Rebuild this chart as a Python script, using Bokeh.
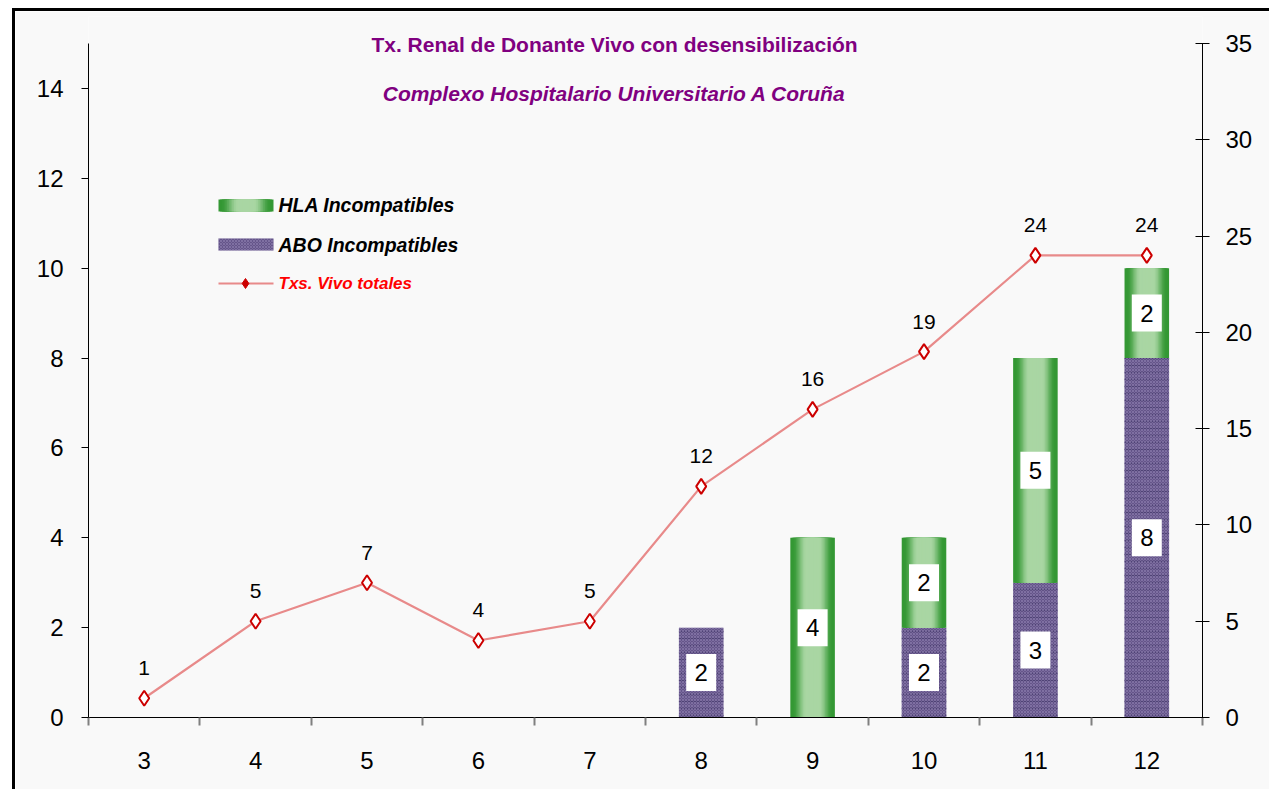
from bokeh.plotting import figure
from bokeh.models import Range1d, LinearAxis, FixedTicker, ColumnDataSource, Label
from bokeh.core.properties import value
from bokeh.embed import file_html
from bokeh.resources import INLINE

# ---------------- data ----------------
years = [3, 4, 5, 6, 7, 8, 9, 10, 11, 12]
abo_incompatibles = [0, 0, 0, 0, 0, 2, 0, 2, 3, 8]
hla_incompatibles = [0, 0, 0, 0, 0, 0, 4, 2, 5, 2]
txs_vivo_totales = [1, 5, 7, 4, 5, 12, 16, 19, 24, 24]
left_ticks = [0, 2, 4, 6, 8, 10, 12, 14]
right_ticks = [0, 5, 10, 15, 20, 25, 30, 35]
LEFT_MAX, RIGHT_MAX = 15, 35

title_text = "Tx. Renal de Donante Vivo con desensibilización"
subtitle_text = "Complexo Hospitalario Universitario A Coruña"
legend_labels = ["HLA Incompatibles", "ABO Incompatibles", "Txs. Vivo totales"]

FONT = "Liberation Sans"
BG = "#f9f9f9"
PURPLE_TITLE = "#800080"

OX, OY = 15, 11        # page origin of the canvas (after margin + border)
W, H = 1272 - OX, 792 - OY
FRAME_L, FRAME_R, AXIS_T, FRAME_B = 88, 1202, 43, 717  # page px
FRAME_T = 16  # frame extends above the axes so titles are not clipped

ext = (FRAME_B - FRAME_T) / (FRAME_B - AXIS_T)
p = figure(width=W, height=H, output_backend="svg", toolbar_location=None,
           x_range=Range1d(years[0] - 0.5, years[-1] + 0.5),
           y_range=Range1d(0, LEFT_MAX * ext),
           min_border_left=FRAME_L - OX, min_border_right=W - (FRAME_R - OX),
           min_border_top=FRAME_T - OY, min_border_bottom=H - (FRAME_B - OY),
           background_fill_color=BG, border_fill_color=BG)
p.styles = {"margin-top": "8px", "margin-left": "12px",
            "border-top": "3px solid black", "border-left": "3px solid black"}
p.outline_line_color = None
p.xgrid.grid_line_color = None
p.ygrid.grid_line_color = None
p.extra_y_ranges = {"right": Range1d(0, RIGHT_MAX * ext)}

# axes
xa = p.xaxis[0]
xa.ticker = FixedTicker(ticks=years, minor_ticks=[y - 0.5 for y in years] + [years[-1] + 0.5])
xa.major_tick_out = 0
xa.major_tick_in = 0
xa.minor_tick_out = 8
xa.minor_tick_in = 0
xa.minor_tick_line_color = "#808080"
xa.minor_tick_line_width = 2
xa.axis_line_color = "black"
xa.major_label_standoff = 26
xa.major_label_text_font = FONT
xa.major_label_text_font_size = "24px"
xa.major_label_text_color = "black"

ya = p.yaxis[0]
ya.ticker = FixedTicker(ticks=left_ticks)
ya.bounds = (0, LEFT_MAX)
ya.major_tick_out = 7
ya.major_tick_in = 0
ya.minor_tick_out = 0
ya.minor_tick_in = 0
ya.major_label_standoff = 18
ya.major_label_text_font = FONT
ya.major_label_text_font_size = "24px"
ya.major_label_text_color = "black"
ya.axis_line_color = "black"

ra = LinearAxis(y_range_name="right", ticker=FixedTicker(ticks=right_ticks),
                bounds=(0, RIGHT_MAX))
ra.major_tick_out = 7
ra.major_tick_in = 7
ra.minor_tick_out = 0
ra.minor_tick_in = 0
ra.major_label_standoff = 16
ra.major_label_text_font = FONT
ra.major_label_text_font_size = "24px"
ra.major_label_text_color = "black"
ra.axis_line_color = "black"
p.add_layout(ra, "right")

# helpers (layout positions only)
def px_x(px):
    return (years[0] - 0.5) + (px - FRAME_L) * len(years) / (FRAME_R - FRAME_L)

def px_y(py):
    return LEFT_MAX * (FRAME_B - py) / (FRAME_B - AXIS_T)

def mix(c1, c2, f):
    a = [int(c1[i:i + 2], 16) for i in (1, 3, 5)]
    b = [int(c2[i:i + 2], 16) for i in (1, 3, 5)]
    return "#%02x%02x%02x" % tuple(round(a[i] + (b[i] - a[i]) * f) for i in range(3))

GREEN_EDGE = "#349834"
GREEN_MID = "#a9d6a3"
N_LAYERS = 16

def grad_color(k):
    t = k / N_LAYERS
    s = max(0.0, min(1.0, (t - 0.08) / 0.6))
    f = s * s * (3 - 2 * s)
    return mix(GREEN_EDGE, GREEN_MID, f)

# ---------------- bars ----------------
BAR_W = 0.40
abo_src = ColumnDataSource(dict(x=years, top=abo_incompatibles,
                                bottom=[0] * len(years)))
p.vbar(x="x", top="top", bottom="bottom", width=BAR_W, source=abo_src,
       fill_color="#65558a", line_color=None,
       hatch_pattern="-", hatch_color="#4f4275", hatch_scale=7, hatch_weight=1.5)
p.vbar(x="x", top="top", bottom="bottom", width=BAR_W, source=abo_src,
       fill_color=None, line_color=None,
       hatch_pattern="x", hatch_color="#998cba", hatch_scale=3, hatch_weight=1, hatch_alpha=0.5)

hla_bottom = abo_incompatibles
hla_top = [a + h for a, h in zip(abo_incompatibles, hla_incompatibles)]
hx = [x for x, h in zip(years, hla_incompatibles) if h > 0]
hb = [b for b, h in zip(hla_bottom, hla_incompatibles) if h > 0]
ht = [t for t, h in zip(hla_top, hla_incompatibles) if h > 0]
for k in range(N_LAYERS):
    w = BAR_W * (1 - k / N_LAYERS)
    p.vbar(x=hx, top=ht, bottom=hb, width=w, fill_color=grad_color(k), line_color=None)

# value boxes inside bars
lab_x, lab_y, lab_t = [], [], []
for x, a, h in zip(years, abo_incompatibles, hla_incompatibles):
    if a > 0:
        lab_x.append(x); lab_y.append(a / 2); lab_t.append(str(a))
    if h > 0:
        lab_x.append(x); lab_y.append(a + h / 2); lab_t.append(str(h))
p.rect(x=lab_x, y=lab_y, width=30, height=37, width_units="screen", height_units="screen",
       fill_color="white", line_color=None)
p.text(x=lab_x, y=lab_y, text=lab_t, text_align="center", text_baseline="middle",
       text_font=value(FONT), text_font_size="24px", text_color="black")

# ---------------- line ----------------
p.line(x=years, y=txs_vivo_totales, y_range_name="right",
       line_color="#e88a8a", line_width=2.2)
p.scatter(x=years, y=txs_vivo_totales, y_range_name="right", marker="diamond",
          size=15, fill_color="white", line_color="#cc0000", line_width=2)
p.text(x=years, y=txs_vivo_totales, y_range_name="right",
       text=[str(v) for v in txs_vivo_totales], y_offset=-30,
       text_align="center", text_baseline="middle",
       text_font=value(FONT), text_font_size="21px", text_color="black")

# ---------------- titles ----------------
p.add_layout(Label(x=px_x(614), y=px_y(44), text=title_text, text_align="center",
                   text_baseline="middle", text_font=FONT, text_font_size="21px",
                   text_font_style="bold", text_color=PURPLE_TITLE))
p.add_layout(Label(x=px_x(614), y=px_y(93), text=subtitle_text, text_align="center",
                   text_baseline="middle", text_font=FONT, text_font_size="21px",
                   text_font_style="bold italic", text_color=PURPLE_TITLE))

# ---------------- legend (manual) ----------------
L0, L1 = 218, 273
for k in range(N_LAYERS):
    half = (L1 - L0) / 2 * (1 - k / N_LAYERS)
    c = (L0 + L1) / 2
    p.quad(left=[px_x(c - half)], right=[px_x(c + half)], top=[px_y(199)],
           bottom=[px_y(211)], fill_color=grad_color(k), line_color=None)
p.quad(left=[px_x(L0)], right=[px_x(L1)], top=[px_y(238)], bottom=[px_y(250)],
       fill_color="#65558a", line_color=None,
       hatch_pattern="x", hatch_color="#998cba", hatch_scale=3, hatch_weight=1, hatch_alpha=0.5)
p.line(x=[px_x(L0), px_x(L1)], y=[px_y(283), px_y(283)], line_color="#e88a8a", line_width=2)
p.scatter(x=[px_x(245)], y=[px_y(283)], marker="diamond", size=10,
          fill_color="#cc0000", line_color="#cc0000")
p.text(x=[px_x(278)] * 2, y=[px_y(204), px_y(244)], text=legend_labels[:2],
       text_baseline="middle", text_font=value(FONT), text_font_size="19.5px",
       text_font_style="bold italic", text_color="black")
p.text(x=[px_x(278)], y=[px_y(283)], text=legend_labels[2:],
       text_baseline="middle", text_font=value(FONT), text_font_size="17px",
       text_font_style="bold italic", text_color="#ff0000")

open("out.html", "w").write(file_html(p, INLINE))
